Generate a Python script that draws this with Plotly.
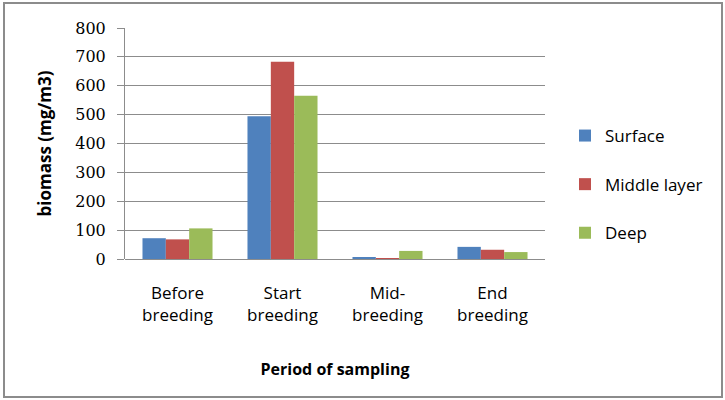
import plotly.graph_objects as go

categories = ["Before<br>breeding", "Start<br>breeding", "Mid-<br>breeding", "End<br>breeding"]
series_names = ["Surface", "Middle layer", "Deep"]
surface = [72, 494, 4, 42]
middle = [68, 683, 3, 32]
deep = [106, 565, 28, 24]
y_ticks = [0, 100, 200, 300, 400, 500, 600, 700, 800]

colors = ["#4F81BD", "#C0504D", "#9BBB59"]
values = [surface, middle, deep]

fig = go.Figure()
for name, vals, col in zip(series_names, values, colors):
    fig.add_trace(go.Bar(x=categories, y=vals, name=name, legendgroup=name,
                         marker=dict(color=col, line=dict(width=0))))

L, R, T, B = 125, 180, 28, 141
W, H = 725, 400
pw, ph = W - L - R, H - T - B

def px_x(x):
    return (x - L) / pw

def px_y(y):
    return (H - B - y) / ph

sans = "Open Sans"
fig.update_layout(
    width=W, height=H,
    margin=dict(l=L, r=R, t=T, b=B, pad=0),
    paper_bgcolor="white", plot_bgcolor="white",
    barmode="group", bargap=0.333, bargroupgap=0,
    font=dict(family=sans, color="black"),
    showlegend=True,
    legend=dict(x=px_x(565), xanchor="left", y=px_y(118), yanchor="top",
                font=dict(family=sans, size=17, color="black"),
                traceorder="grouped", tracegroupgap=23.5,
                bgcolor="rgba(0,0,0,0)", borderwidth=0),
    xaxis=dict(showgrid=False, showline=False, ticks="",
               tickfont=dict(family=sans, size=17, color="black"),
               ticklabelstandoff=22,
               title=dict(text="<b>Period of sampling</b>", font=dict(family=sans, size=16, color="black"), standoff=38),
               fixedrange=True),
    yaxis=dict(range=[0, 800], tickvals=y_ticks, showgrid=True, gridcolor="#8C8C8C", gridwidth=1,
               showline=True, linecolor="#8C8C8C", linewidth=1,
               ticks="outside", ticklen=7, tickcolor="#8C8C8C",
               zeroline=True, zerolinecolor="#8C8C8C", zerolinewidth=1,
               tickfont=dict(family="DejaVu Serif", size=16, color="black"),
               ticklabelstandoff=8,
               title=dict(text="<b>biomass (mg/m3)</b>", font=dict(family=sans, size=17, color="black"), standoff=19),
               fixedrange=True),
    shapes=[dict(type="rect", xref="paper", yref="paper",
                 x0=px_x(4), x1=px_x(722), y0=px_y(397), y1=px_y(3),
                 line=dict(color="#8C8C8C", width=2), fillcolor="rgba(0,0,0,0)", layer="below")],
)

fig.write_html("out.html")
